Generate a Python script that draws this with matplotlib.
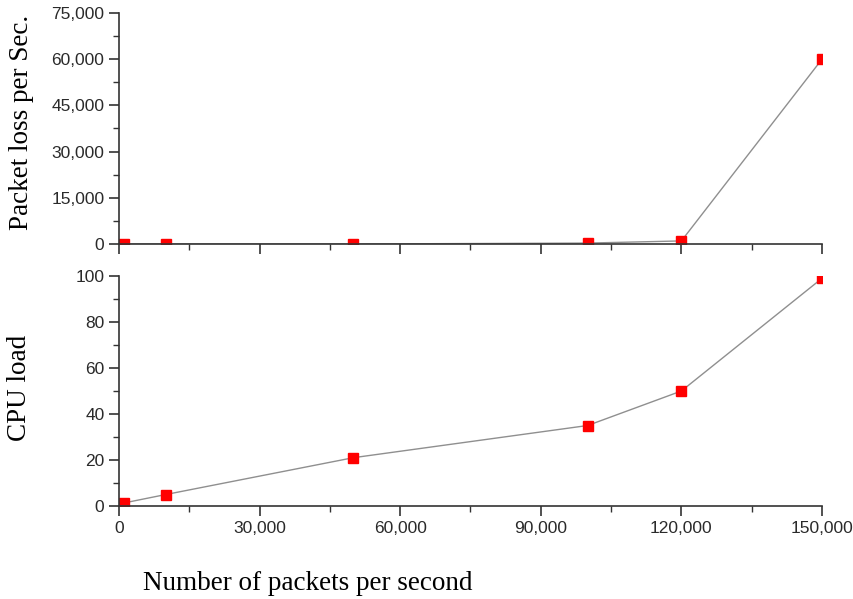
import matplotlib
matplotlib.use("Agg")
import matplotlib.pyplot as plt
from matplotlib.ticker import MultipleLocator, FuncFormatter

# Offered load (packets per second) and measured results
packets_per_sec = [1000, 10000, 50000, 100000, 120000, 150000]
packet_loss = [0, 0, 0, 300, 1000, 60000]
cpu_load = [1.3, 5, 21, 35, 50, 99]

x_ticks = [0, 30000, 60000, 90000, 120000, 150000]
loss_ticks = [0, 15000, 30000, 45000, 60000, 75000]
cpu_ticks = [0, 20, 40, 60, 80, 100]

W, H = 854, 599
fig = plt.figure(figsize=(W / 100, H / 100), dpi=100)

left = 119 / W
right = 822 / W
ax1 = fig.add_axes([left, 1 - 244 / H, right - left, (244 - 13) / H])
ax2 = fig.add_axes([left, 1 - 506 / H, right - left, (506 - 276) / H])

axis_col = "#333333"
comma = FuncFormatter(lambda v, p: f"{int(v):,}")

def style(ax):
    for s in ("top", "right"):
        ax.spines[s].set_visible(False)
    for s in ("left", "bottom"):
        ax.spines[s].set_color(axis_col)
        ax.spines[s].set_linewidth(1.2)
    ax.tick_params(which="major", length=7, width=1.2, color=axis_col,
                   labelcolor="#2a2a2a", labelsize=12.5)
    ax.tick_params(which="minor", length=4, width=1.0, color=axis_col)
    ax.set_xlim(0, 150000)
    ax.set_xticks(x_ticks)
    ax.xaxis.set_minor_locator(MultipleLocator(15000))
    for lab in ax.get_xticklabels() + ax.get_yticklabels():
        lab.set_fontfamily("Liberation Sans")

line_kw = dict(color="#8f8f8f", lw=1.0, marker="s", markersize=6.5,
               markerfacecolor="#ff0000", markeredgecolor="#ff0000")

ax1.plot(packets_per_sec, packet_loss, **line_kw)
ax1.set_ylim(0, 75000)
ax1.set_yticks(loss_ticks)
ax1.yaxis.set_minor_locator(MultipleLocator(7500))
ax1.yaxis.set_major_formatter(comma)
style(ax1)
ax1.tick_params(axis="x", labelbottom=False)

ax2.plot(packets_per_sec, cpu_load, **line_kw)
ax2.set_ylim(0, 100)
ax2.set_yticks(cpu_ticks)
ax2.yaxis.set_minor_locator(MultipleLocator(10))
ax2.xaxis.set_major_formatter(comma)
style(ax2)

serif = dict(fontfamily="Liberation Serif", fontsize=19.5, color="black")
fig.text(22 / W, 1 - 122 / H, "Packet loss per Sec.", rotation=90,
         ha="center", va="center", **serif)
fig.text(20 / W, 1 - 388 / H, "CPU load", rotation=90,
         ha="center", va="center", **serif)
fig.text(143 / W, 1 - 583 / H, "Number of packets per second",
         ha="left", va="center", **serif)

fig.savefig("out.png", dpi=100)
